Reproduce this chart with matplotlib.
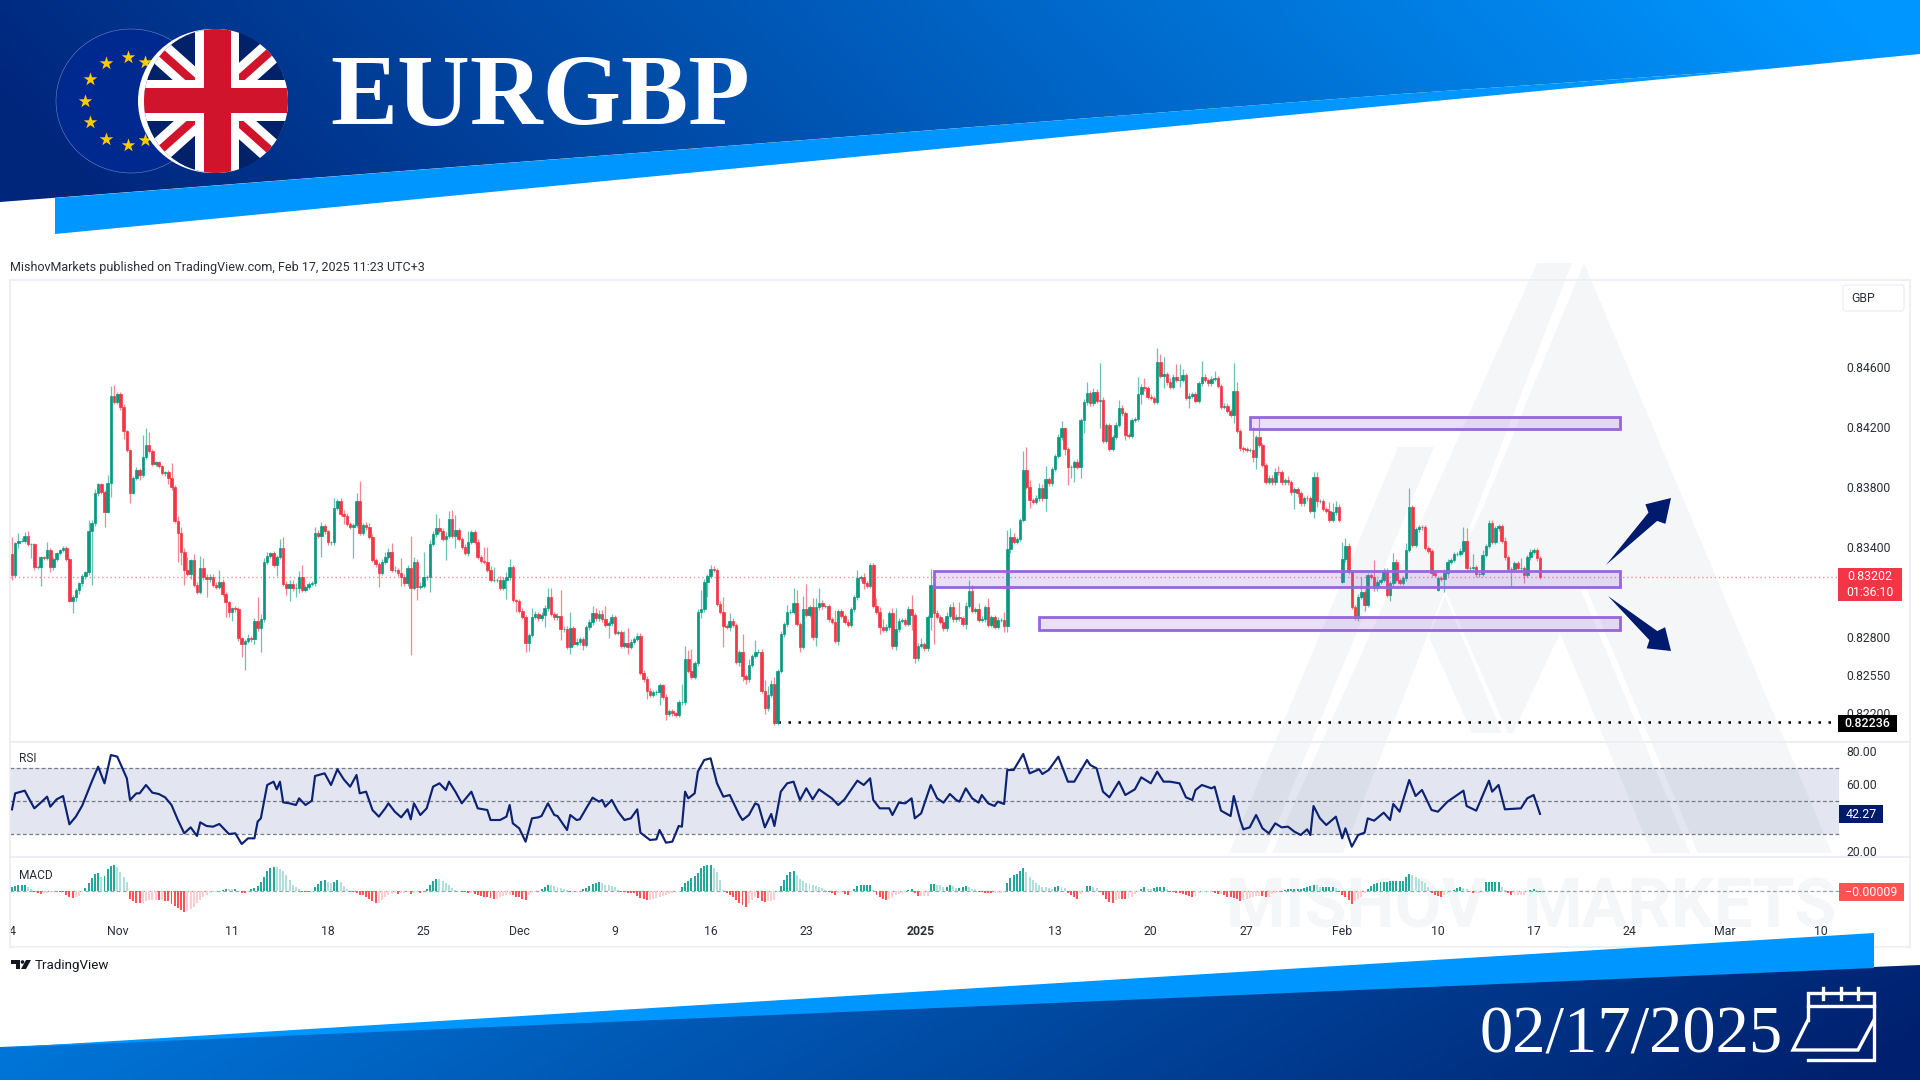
import numpy as np
import matplotlib
matplotlib.use("Agg")
import matplotlib.pyplot as plt
from matplotlib.patches import Polygon, Rectangle, Ellipse, FancyBboxPatch

W, H = 1920, 1080

# 4H closes in 1e-5 price points
first_open = 83351
closes = [
    83213, 83424, 83442, 83442, 83475, 83420, 83420, 83264, 83269, 83331,
    83329, 83380, 83269, 83320, 83358, 83380, 83395, 83320, 83042, 83069,
    83113, 83158, 83209, 83231, 83504, 83558, 83758, 83818, 83769, 83635,
    83829, 84406, 84364, 84420, 84335, 84173, 84046, 83762, 83862, 83913,
    83880, 84002, 84080, 84040, 83953, 83964, 83940, 83891, 83898, 83858,
    83802, 83575, 83491, 83366, 83246, 83220, 83313, 83146, 83102, 83258,
    83198, 83184, 83202, 83146, 83135, 83169, 83086, 83031, 82964, 82991,
    82984, 82791, 82751, 82775, 82795, 82784, 82909, 82858, 82918, 83302,
    83340, 83358, 83280, 83335, 83395, 83153, 83124, 83153, 83124, 83124,
    83198, 83113, 83135, 83153, 83158, 83491, 83475, 83540, 83504, 83431,
    83431, 83662, 83709, 83620, 83606, 83553, 83535, 83546, 83709, 83495,
    83546, 83531, 83469, 83313, 83284, 83229, 83302, 83335, 83369, 83246,
    83246, 83224,
    83198, 83158, 83258, 83129, 83302, 83135, 83140, 83198, 83198, 83420,
    83484, 83524, 83509, 83455, 83473, 83584, 83473, 83513, 83453, 83402,
    83362, 83435, 83498, 83435, 83335, 83309, 83302, 83246, 83180, 83180,
    83180, 83129, 83180, 83198, 83264, 83046, 83040, 82975, 82935, 82758,
    82813, 82935, 82953, 82924, 82946, 82991, 83064, 82953, 82931, 82942,
    82851, 82851, 82735, 82858, 82753, 82769, 82784, 82746, 82864, 82898,
    82962, 82924, 82953, 82918, 82880, 82891, 82931, 82829, 82835, 82742,
    82758, 82735, 82769, 82786, 82809, 82562, 82518, 82442, 82413, 82431,
    82435, 82480, 82402, 82287, 82309, 82291, 82280, 82364, 82364, 82653,
    82575, 82535, 82624, 82969, 82984, 83169, 83206, 83251, 83246, 83020,
    82969, 82873, 82869, 82909, 82880, 82635, 82698, 82540, 82518, 82613,
    82673, 82702, 82702, 82440, 82324, 82413, 82486, 82224, 82575, 82818,
    82884, 82969,
    82969, 83024, 82886, 82735, 82984, 82946, 82998, 82798, 82998, 83029,
    83006, 83006, 82918, 82902, 82775, 82975, 82940, 82902, 82880, 82984,
    83064, 83191, 83198, 83158, 83140, 83280, 83006, 82969, 82869, 82846,
    82864, 82958, 82742, 82851, 82909, 82913, 82886, 82984, 82946, 82658,
    82742, 82753, 82724, 82931, 83146, 82962, 82935, 82902, 82858, 82940,
    82998, 82918, 82931, 82924, 82886, 83006, 83106, 82973, 82984, 82913,
    82918, 82998, 82880, 82935, 82869, 82913, 82913, 82875, 83384,
    83469, 83435, 83453, 83580, 83913, 83802, 83713, 83702, 83724, 83795,
    83724, 83851, 83824, 83920, 84006, 84131, 84191, 84053, 83931, 83935,
    83964, 83935, 84246, 84364, 84424, 84357, 84431, 84373, 84380, 84106,
    84213, 84053, 84135, 84213, 84329, 84291, 84146, 84142, 84246, 84253,
    84418, 84469, 84457, 84402, 84395, 84369, 84631, 84542, 84551, 84497,
    84469, 84535, 84513, 84513, 84546, 84395, 84409, 84418, 84373, 84491,
    84535, 84513, 84491, 84520, 84524, 84475, 84335, 84342, 84306, 84280,
    84440, 84173, 84057, 84051, 84046, 84046, 84002, 84135, 84080, 83946,
    83835, 83862, 83831, 83902, 83897, 83831, 83846, 83831, 83764, 83786,
    83757, 83691, 83728, 83724, 83640, 83869, 83706, 83706, 83653, 83640,
    83580,
    83631, 83669, 83580, 83318, 83409, 83235, 83002, 82924, 83069, 83102,
    83013, 83213, 83202, 83124, 83169, 83180, 83242, 83080, 83158, 83302,
    83180, 83162, 83191, 83380, 83669, 83413, 83518, 83535, 83531, 83395,
    83373, 83224, 83213, 83191, 83186, 83224, 83302, 83313, 83353, 83353,
    83375, 83440, 83258, 83258, 83264, 83218, 83220, 83346, 83406, 83562,
    83435, 83524, 83540, 83440, 83331, 83251, 83251, 83291, 83258, 83258,
    83213, 83331, 83369, 83380, 83324, 83202,
]
# bars that opened away from the previous close
gap_opens = {417: 83169, 447: 83113}

wick_up = [
    118, 10, 49, 15, 25, 31, 10, 10, 12, 12, 10, 55, 15, 12, 12, 10, 10, 12, 10, 10,
    12, 10, 10, 10, 75, 20, 30, 10, 10, 10, 50, 67, 73, 12, 15, 20, 10, 10, 12, 20,
    15, 145, 111, 84, 15, 10, 12, 10, 12, 15, 100, 12, 30, 40, 25, 90, 10, 40, 20, 85,
    70, 20, 15, 15, 20, 78, 15, 15, 12, 12, 15, 15, 10, 10, 25, 12, 15, 160, 35, 25,
    25, 10, 15, 12, 60, 70, 20, 25, 30, 35, 40, 80, 15, 12, 15, 45, 25, 25, 15, 12,
    12, 65, 10, 15, 25, 20, 15, 15, 48, 130, 15, 20, 30, 15, 12, 15, 15, 30, 25, 60,
    25, 15, 100, 25, 20, 215, 30, 15, 30, 170, 15, 25, 25, 95, 70, 15, 30, 55, 62, 100,
    15, 15, 15, 70, 15, 15, 20, 15, 90, 100, 25, 90, 15, 25, 20, 35, 55, 15, 10, 15,
    20, 15, 12, 60, 20, 15, 20, 20, 60, 60, 15, 20, 170, 25, 20, 110, 15, 25, 15, 15,
    15, 20, 45, 30, 25, 25, 90, 15, 20, 15, 15, 15, 85, 100, 15, 15, 20, 15, 20, 20,
    15, 15, 15, 15, 10, 15, 10, 10, 10, 15, 125, 90, 60, 145, 15, 15, 130, 15, 15, 30,
    20, 15, 20, 95, 15, 50, 15, 15, 15, 125, 15, 40, 15, 80, 15, 15, 75, 60, 30, 50,
    15, 20, 15, 45, 15, 100, 90, 15, 90, 170, 15, 60, 60, 95, 15, 15, 15, 15, 80, 10,
    15, 15, 15, 15, 15, 55, 15, 30, 15, 15, 15, 55, 30, 50, 20, 15, 35, 140, 15, 15,
    15, 20, 95, 15, 15, 38, 15, 15, 105, 25, 15, 15, 15, 30, 22, 38, 25, 105, 15, 25,
    73, 40, 15, 40, 20, 15, 60, 15, 15, 20, 15, 55, 130, 55, 25, 15, 15, 126, 155, 44,
    15, 20, 30, 25, 90, 15, 15, 15, 20, 48, 12, 12, 15, 15, 20, 15, 20, 78, 15, 26,
    20, 250, 20, 15, 15, 15, 20, 51, 18, 15, 15, 15, 15, 113, 15, 55, 15, 15, 15, 98,
    53, 117, 15, 30, 20, 88, 110, 40, 15, 15, 15, 15, 15, 104, 20, 15, 20, 49, 15, 15,
    15, 15, 15, 184, 58, 15, 15, 15, 15, 155, 15, 133, 15, 15, 20, 20, 25, 40, 15, 15,
    25, 15, 15, 15, 15, 15, 20, 15, 33, 33, 15, 15, 15, 60, 60, 35, 15, 115, 49, 15,
    10, 10, 15, 100, 15, 15, 15, 110, 15, 15, 15, 15, 15, 55, 15, 15, 15, 44, 122, 11,
    15, 15, 15, 15, 15, 15, 15, 15, 15, 30, 15, 15, 15, 15, 20, 95, 84, 15, 88, 15,
    15, 33, 15, 15, 15, 15, 15, 15, 25, 15, 15, 15, 15, 66, 15, 15, 15, 11, 15, 15,
]
wick_dn = [
    33, 10, 30, 10, 15, 15, 95, 15, 10, 130, 15, 15, 33, 25, 15, 10, 10, 10, 10, 80,
    30, 25, 15, 20, 15, 355, 15, 15, 15, 100, 10, 93, 10, 10, 20, 50, 15, 66, 10, 15,
    30, 15, 15, 10, 12, 10, 10, 12, 15, 35, 20, 15, 190, 86, 100, 15, 30, 15, 15, 15,
    15, 120, 15, 15, 15, 15, 15, 100, 33, 60, 15, 15, 82, 173, 15, 15, 30, 15, 160, 15,
    15, 15, 15, 70, 15, 15, 44, 85, 15, 55, 30, 15, 15, 15, 15, 15, 15, 140, 15, 15,
    15, 15, 15, 15, 50, 15, 15, 210, 15, 15, 15, 15, 15, 15, 15, 93, 15, 15, 15, 15,
    15, 15, 55, 15, 15, 450, 15, 90, 15, 15, 15, 100, 15, 15, 15, 15, 142, 15, 15, 82,
    15, 15, 15, 20, 15, 15, 18, 15, 15, 15, 15, 15, 15, 15, 15, 128, 15, 15, 71, 15,
    15, 55, 50, 15, 15, 15, 15, 78, 15, 15, 15, 15, 70, 15, 15, 50, 15, 15, 20, 35,
    15, 15, 15, 15, 15, 15, 15, 88, 20, 15, 15, 15, 15, 50, 15, 15, 15, 15, 15, 57,
    15, 15, 15, 88, 15, 42, 15, 15, 15, 15, 15, 15, 15, 15, 15, 15, 40, 15, 100, 15,
    15, 15, 15, 140, 15, 30, 15, 15, 30, 30, 30, 15, 15, 15, 15, 15, 35, 15, 15, 10,
    10, 15, 15, 15, 15, 15, 15, 35, 15, 15, 15, 20, 60, 15, 20, 15, 15, 15, 15, 30,
    15, 15, 15, 15, 15, 15, 15, 40, 15, 15, 15, 15, 50, 15, 15, 15, 25, 30, 15, 15,
    15, 15, 100, 29, 15, 15, 15, 15, 85, 210, 15, 15, 15, 15, 15, 15, 15, 15, 15, 30,
    15, 15, 15, 15, 15, 15, 15, 15, 15, 15, 15, 40, 44, 25, 15, 15, 15, 15, 15, 55,
    15, 15, 15, 15, 85, 15, 15, 15, 15, 15, 40, 118, 73, 104, 15, 75, 89, 15, 15, 15,
    15, 178, 15, 15, 15, 15, 15, 15, 15, 33, 15, 15, 15, 15, 66, 15, 15, 15, 15, 15,
    15, 84, 15, 15, 15, 15, 44, 15, 15, 71, 15, 15, 15, 15, 15, 15, 15, 15, 15, 15,
    15, 15, 15, 55, 15, 15, 15, 15, 15, 35, 85, 15, 15, 15, 15, 15, 15, 15, 15, 15,
    15, 15, 110, 25, 15, 15, 15, 15, 44, 40, 15, 15, 15, 15, 15, 15, 15, 11, 15, 15,
    15, 10, 15, 15, 38, 15, 15, 15, 15, 15, 15, 15, 38, 15, 15, 15, 15, 15, 15, 15,
    15, 15, 15, 15, 15, 15, 15, 5, 15, 88, 15, 15, 15, 15, 15, 15, 15, 15, 15, 15,
    15, 15, 15, 15, 15, 15, 15, 15, 15, 15, 115, 15, 15, 15, 50, 15, 15, 15, 15, 15,
]

rsi_idx = [
    0, 1, 4, 5, 7, 9, 11, 12, 14, 16, 18, 20, 22, 25, 27, 29, 31, 33, 36, 37,
    39, 40, 42, 44, 46, 48, 50, 52, 54, 56, 58, 59, 61, 63, 65, 68, 70, 72, 74, 76,
    77, 78, 80, 82, 83, 84, 85, 87, 89, 90, 92, 94, 95, 98, 100, 102, 104, 106, 108, 109,
    111, 113, 115, 117, 118, 120, 122, 124, 125, 126, 128, 130, 132, 134, 136, 137, 139, 141, 144, 146,
    149, 150, 153, 155, 156, 157, 159, 161, 163, 165, 166, 168, 170, 171, 174, 175, 177, 178, 180, 182,
    184, 185, 186, 188, 190, 192, 194, 196, 197, 200, 202, 203, 205, 207, 209, 210, 211, 212, 214, 215,
    217, 219, 221, 223, 225, 228, 229, 231, 233, 234, 236, 238, 239, 241, 243, 245, 247, 249, 251, 253,
    254, 257, 259, 261, 265, 267, 269, 270, 272, 275, 276, 278, 280, 282, 283, 285, 288, 290, 292, 294,
    296, 297, 299, 301, 303, 304, 306, 308, 309, 311, 312, 314, 317, 319, 322, 323, 325, 328, 331, 333,
    337, 338, 340, 342, 344, 347, 349, 352, 354, 357, 359, 361, 363, 366, 368, 370, 371, 373, 376, 377,
    379, 382, 383, 385, 386, 388, 390, 392, 394, 396, 398, 400, 402, 404, 406, 407, 408, 410, 412, 415,
    417, 418, 420, 422, 424, 425, 427, 430, 432, 433, 435, 438, 440, 442, 445, 447, 450, 455, 456, 459,
    463, 464, 466, 468, 473, 475, 477, 479,
]
rsi_vals = [
    45.0, 54.6, 56.2, 52.6, 45.6, 49.0, 52.6, 46.6, 51.0, 53.0, 36.0, 40.6, 47.2, 61.6, 70.6, 60.6, 77.6, 76.6, 63.6, 50.6,
    54.6, 54.6, 59.6, 55.0, 54.2, 52.2, 47.6, 38.6, 30.6, 34.2, 29.0, 37.2, 35.0, 34.6, 36.2, 30.2, 30.6, 24.2, 27.6, 27.6,
    37.6, 39.6, 59.6, 61.6, 57.0, 61.6, 49.2, 48.6, 47.6, 51.6, 47.6, 50.2, 65.0, 66.6, 59.6, 69.0, 63.0, 58.6, 65.6, 54.6,
    55.6, 44.6, 40.6, 45.6, 48.6, 43.6, 40.2, 45.0, 39.0, 48.6, 41.6, 45.6, 58.6, 60.6, 56.6, 61.6, 55.6, 48.6, 55.6, 45.6,
    44.6, 38.6, 38.6, 40.6, 47.6, 36.6, 33.6, 25.6, 39.6, 40.2, 41.0, 48.6, 41.6, 41.0, 32.6, 41.6, 38.6, 39.0, 45.6, 52.0,
    49.6, 50.6, 46.6, 50.6, 43.6, 38.6, 39.6, 45.0, 31.0, 26.6, 27.0, 32.6, 25.0, 25.6, 35.0, 34.6, 55.6, 51.6, 54.6, 67.6,
    74.6, 75.6, 60.6, 52.6, 53.6, 41.6, 38.6, 41.6, 48.6, 47.6, 34.2, 42.2, 35.0, 55.6, 60.6, 61.6, 50.6, 57.6, 51.0, 57.0,
    55.6, 51.6, 47.6, 51.0, 62.2, 59.6, 63.6, 50.6, 45.6, 45.6, 41.6, 49.0, 48.6, 51.6, 39.6, 42.6, 59.6, 51.6, 49.0, 54.2,
    50.6, 49.6, 57.6, 51.6, 49.0, 53.6, 48.6, 47.0, 49.6, 48.2, 68.6, 68.6, 78.2, 66.6, 69.0, 66.2, 68.6, 76.6, 61.6, 61.6,
    74.6, 71.6, 69.6, 55.6, 52.2, 61.6, 53.6, 57.0, 64.2, 60.6, 67.6, 61.6, 61.6, 60.6, 52.2, 50.6, 56.6, 59.6, 57.6, 58.6,
    44.2, 41.0, 53.0, 38.6, 33.0, 34.2, 41.6, 33.6, 30.6, 36.6, 34.2, 34.6, 31.6, 29.6, 33.0, 29.6, 47.0, 39.6, 35.6, 40.6,
    27.6, 33.6, 22.6, 29.6, 31.0, 39.6, 38.2, 43.0, 38.6, 48.2, 43.6, 62.6, 53.0, 56.6, 44.6, 43.6, 49.6, 56.2, 47.0, 44.2,
    62.2, 55.6, 59.6, 45.0, 45.6, 51.6, 53.6, 42.27,
]

# MACD histogram, read in units of 2e-5
macd_hist = [
    12, 14, 16, 18, 18, 12, 4, -3, -8, -10, -6, -6, -3, -3, -2, -3, -5, -12, -20, -22,
    -20, -15, -3, 8, 22, 38, 50, 52, 40, 45, 65, 75, 78, 70, 55, 40, 25, -25, -32, -36,
    -38, -37, -30, -28, -28, -27, -28, -28, -30, -32, -40, -45, -52, -58, -65, -62, -55, -48, -38, -28,
    -20, -14, -8, -5, -3, -1, 2, 6, 5, 4, 5, -2, -6, -8, -5, 5, 8, 15, 25, 42,
    60, 68, 72, 70, 66, 60, 48, 32, 18, 10, 4, -3, -4, -5, -5, 10, 20, 30, 32, 26,
    22, 26, 32, 26, 14, 4, -3, -4, -6, -12, -14, -20, -25, -32, -38, -36, -28, -18, -14, -10,
    -8, -9, -8, -6, -5, -9, -6, -4, -6, -2, 6, 18, 28, 36, 35, 30, 24, 16, 8, 3,
    0, -3, -5, -8, -8, -10, -12, -15, -18, -20, -22, -26, -24, -20, -15, -12, -12, -14, -18, -20,
    -25, -28, -14, -8, -5, -1, 5, 12, 18, 16, 14, 10, 8, 5, 2, -3, -3, -3, -2, 4,
    8, 14, 20, 24, 25, 22, 18, 16, 14, 10, 3, -3, -4, -6, -7, -8, -16, -22, -26, -28,
    -28, -25, -22, -18, -15, -12, -9, -7, -5, -3, 10, 24, 30, 38, 44, 52, 68, 75, 78, 78,
    68, 55, 32, 3, -8, -14, -20, -28, -38, -44, -48, -38, -28, -20, -22, -30, -34, -32, -30, -28,
    -3, 14, 32, 48, 55, 58, 48, 35, 28, 22, 20, 18, 14, 12, 8, 3, -3, -8, -12, -6,
    -4, -10, -14, -4, 4, 14, 18, 18, 18, 18, 3, -14, -20, -26, -28, -24, -20, -14, -10, -6,
    -3, 3, 6, -6, -15, -15, -15, -15, 20, 20, 18, 16, 12, 12, 16, 14, 8, 8, 10, 14,
    10, 6, 4, -3, -5, -6, -7, -8, -8, -7, -6, -5, 22, 38, 48, 50, 58, 68, 55, 42,
    32, 22, 18, 12, 10, 8, 6, 10, 14, 12, 8, -8, -14, -20, -24, -10, -2, 14, 14, 12,
    8, -3, -14, -25, -33, -36, -28, -24, -25, -26, -22, -18, -10, -3, 6, 10, 6, 4, 8, 10,
    10, 10, 4, -3, -5, -7, -8, -10, -14, -16, -20, -16, -8, -4, -3, -3, -3, -6, -10, -10,
    -14, -18, -20, -22, -26, -30, -28, -24, -22, -18, -16, -15, -16, -20, -18, -10, -6, -4, -2, 2,
    5, 5, 5, 5, 6, 8, 10, 14, 18, 16, 12, 12, 12, 12, 12, 8, -4, -14, -20, -28,
    -40, -32, -24, -20, -6, 6, 15, 20, 24, 25, 26, 26, 28, 30, 30, 30, 30, 40, 50, 46,
    42, 36, 30, 22, 10, -6, -12, -16, -18, -14, -10, -3, 3, 8, 10, 8, 5, -2, -6, -6,
    -6, -3, 25, 25, 25, 25, 25, 10, 3, -8, -14, -14, -14, -14, -14, -3, 3, 5, 3, -4,
]

price_ticks = [84600, 84200, 83800, 83400, 82800, 82550, 82295]
price_labels = ["0.84600", "0.84200", "0.83800", "0.83400", "0.82800", "0.82550", "0.82200"]
rsi_ticks = [80, 60, 20]
time_idx = [0, 33, 69, 99, 129, 159, 189, 219, 249, 285, 327, 357, 387, 417, 447, 477, 507, 537, 567]
time_labels = ["4", "Nov", "11", "18", "25", "Dec", "9", "16", "23", "2025", "13", "20", "27",
               "Feb", "10", "17", "24", "Mar", "10"]

last_price = 83202
low_price = 82236
zones = [(388, 84187, 84269), (289, 83133, 83242), (322, 82847, 82933)]
zone_end = 504

if not (len(closes) == len(wick_up) == len(wick_dn) == len(macd_hist)):
    raise SystemExit(f"lengths {len(closes)} {len(wick_up)} {len(wick_dn)} {len(macd_hist)} {len(rsi_idx)} {len(rsi_vals)}")

GREEN = "#089981"
RED = "#f23645"
NAVY = "#001a6e"
TXT = "#2a2e39"
FONT = "Roboto"
X0, X1 = 12.0, 3.19  # first bar pixel, pixels per bar

plt.rcParams["font.family"] = [FONT, "DejaVu Sans"]
fig = plt.figure(figsize=(W / 100, H / 100), dpi=100, facecolor="white")


def full_axes(z):
    a = fig.add_axes([0, 0, 1, 1], zorder=z)
    a.set_xlim(0, W)
    a.set_ylim(H, 0)
    a.set_xticks([])
    a.set_yticks([])
    a.axis("off")
    a.patch.set_alpha(0)
    return a


def pane(y0, y1):
    a = fig.add_axes([10 / W, 1 - y1 / H, 1900 / W, (y1 - y0) / H], zorder=2)
    a.patch.set_alpha(0)
    a.set_xlim((10 - X0) / X1, (1910 - X0) / X1)
    for s in a.spines.values():
        s.set_color("#eceef3")
        s.set_linewidth(1.2)
    a.tick_params(length=0, labelsize=8.8, labelcolor=TXT)
    return a


# watermark, behind the panes
ax_wm = full_axes(1)
wm_shapes = [
    [(1398, 447), (1434, 447), (1265, 853), (1229, 853)],
    [(1537, 263), (1572, 263), (1343, 853), (1272, 853)],
    [(1584, 263), (1832, 853), (1698, 853), (1585, 585), (1580, 588), (1690, 853), (1652, 853),
     (1560, 633), (1513, 733), (1508, 733), (1445, 590), (1482, 510)],
    [(1429, 637), (1445, 596), (1502, 733), (1472, 733)],
]
for pts in wm_shapes:
    ax_wm.add_patch(Polygon(pts, closed=True, fc="#20305a", ec="none", alpha=0.045))
ax_wm.text(1226, 928, "MISHOV", fontsize=49, fontweight="bold", color="#20305a", alpha=0.045, va="baseline")
ax_wm.text(1523, 928, "MARKETS", fontsize=49, fontweight="bold", color="#20305a", alpha=0.045, va="baseline")

# price pane
ax = pane(280, 742)
to_p = 1e-5
ax.set_ylim(82100 * to_p, 85180 * to_p)
c = np.array(closes, dtype=float)
o = np.r_[first_open, c[:-1]]
for k, v in gap_opens.items():
    o[k] = v
hi = np.maximum(o, c) + np.array(wick_up)
lo = np.minimum(o, c) - np.array(wick_dn)
xs = np.arange(len(c))
cols = [GREEN if b >= a else RED for a, b in zip(o, c)]
ax.vlines(xs, lo * to_p, hi * to_p, colors=cols, linewidth=0.9, alpha=0.6, zorder=3)
ax.bar(xs, (c - o) * to_p, bottom=o * to_p, width=0.8, color=cols, edgecolor=cols, linewidth=0.5, zorder=4)
ax.hlines(last_price * to_p, (10 - X0) / X1, (1838 - X0) / X1, colors=RED, linewidth=1.0, linestyles=(0, (1, 2)), alpha=0.55, zorder=3)
ax.hlines(low_price * to_p, 240, (1838 - X0) / X1, colors="black", linewidth=1.8, linestyles=(0, (1, 3)), zorder=3)
for x_start, z_lo, z_hi in zones:
    ax.add_patch(Rectangle((x_start, z_lo * to_p), zone_end - x_start, (z_hi - z_lo) * to_p,
                           fc=(0.584, 0.4, 0.867, 0.2), ec="#9566dd", lw=2.0, zorder=5))
ax.yaxis.tick_right()
ax.set_yticks([t * to_p for t in price_ticks])
ax.set_yticklabels(price_labels)
ax.tick_params(axis="y", pad=-46)
ax.set_xticks([])

# RSI pane
ax_rsi = pane(742, 857)
ax_rsi.set_ylim(16.4, 85.4)
band_end = (1839 - X0) / X1
band_start = (10 - X0) / X1
ax_rsi.fill_between([band_start, band_end], 30, 70, color=(0.165, 0.247, 0.56, 0.13), lw=0)
for lvl in (70, 50, 30):
    ax_rsi.hlines(lvl, band_start, band_end, colors="#787b86", linewidth=0.9, linestyles=(0, (3, 2)))
ax_rsi.plot(rsi_idx, rsi_vals, color="#0c2272", lw=1.55, solid_joinstyle="round", zorder=4)
ax_rsi.yaxis.tick_right()
ax_rsi.set_yticks(rsi_ticks)
ax_rsi.set_yticklabels([f"{t:.2f}" for t in rsi_ticks])
ax_rsi.tick_params(axis="y", pad=-46)
ax_rsi.set_xticks([])
ax_rsi.text(0.0047, 0.83, "RSI", transform=ax_rsi.transAxes, fontsize=8.6, color=TXT)

# MACD pane, last rows hold the time scale
ax_m = pane(857, 947)
ax_m.set_ylim(-169.5, 100.5)
m = np.array(macd_hist)
m_prev = np.r_[m[0], m[:-1]]
m_cols = []
for v, p in zip(m, m_prev):
    if v >= 0:
        m_cols.append("#26a69a" if v >= p else "#b2dfdb")
    else:
        m_cols.append("#ffcdd2" if v >= p else "#ff5252")
ax_m.bar(np.arange(len(m)), m, width=0.62, color=m_cols, lw=0, zorder=3)
ax_m.hlines(0, band_start, band_end, colors="#787b86", linewidth=0.9, linestyles=(0, (3, 2)), alpha=0.7)
ax_m.text(0.0047, 0.76, "MACD", transform=ax_m.transAxes, fontsize=8.6, color=TXT)
ax_m.set_yticks([])
ax_m.set_xticks(time_idx)
ax_m.set_xticklabels(time_labels)
for lab in ax_m.get_xticklabels():
    if lab.get_text() == "2025":
        lab.set_fontweight("bold")
ax_m.tick_params(axis="x", pad=-16)

# banners, flags and labels on top
fg = full_axes(6)


def gradient(poly, left, right, tilt=0.0):
    cl = np.array(matplotlib.colors.to_rgb(left))
    cr = np.array(matplotlib.colors.to_rgb(right))
    yy, xx = np.mgrid[0:1:60j, 0:1:240j]
    t = np.clip((xx + tilt * (yy - 0.5)), 0, 1)[..., None]
    img = cl + (cr - cl) * t
    xv = [p[0] for p in poly]
    yv = [p[1] for p in poly]
    im = fg.imshow(img, extent=[min(xv), max(xv), max(yv), min(yv)], aspect="auto", zorder=1,
                   interpolation="bilinear")
    im.set_clip_path(Polygon(poly, closed=True, transform=fg.transData))


top_poly = [(0, 0), (1920, 0), (1920, 54), (1767, 69), (1400, 94), (0, 202)]
gradient(top_poly, "#00267c", "#0096ff", tilt=-0.1)
fg.add_patch(Polygon([(55, 198), (1400, 94), (1767, 69), (55, 234)], closed=True, fc="#0096ff", ec="none", zorder=2))
fg.add_patch(Polygon([(0, 1048), (1874, 933), (1874, 968), (0, 1048)], closed=True, fc="#0096ff", ec="none", zorder=2))
bottom_poly = [(0, 1047), (1920, 965), (1920, 1080), (0, 1080)]
gradient(bottom_poly, "#0078dc", "#00216f", tilt=0.1)
fg.set_xlim(0, W)
fg.set_ylim(H, 0)

fg.text(330, 125, "EURGBP", fontsize=72.5, fontfamily="Liberation Serif", fontweight="bold", color="white", va="baseline", zorder=5)
fg.text(1480, 1052, "02/17/2025", fontsize=48, fontfamily="Liberation Serif", color="white", va="baseline", zorder=5)

# EU disc
fg.add_patch(Ellipse((131, 101), 150, 144, fc="#00298f", ec="#6f86c4", lw=0.4, zorder=3))
star_x = [127.6, 105.6, 90, 85, 90, 106, 128, 145, 145]
star_y = [57, 63, 79, 101, 122, 139, 145, 62, 140]
fg.scatter(star_x, star_y, marker="*", s=105, color="#ffcc00", lw=0, zorder=3.5)

# UK disc
fg.add_patch(Ellipse((213, 101), 150, 144, fc="white", ec="none", zorder=4))
clip = Ellipse((216, 101), 144, 144, transform=fg.transData)
art = [fg.add_patch(Rectangle((130, 25), 170, 152, fc="#012169", ec="none", zorder=4.1))]
for (x_a, y_a, x_b, y_b) in [(130, 25, 300, 177), (130, 177, 300, 25)]:
    art += fg.plot([x_a, x_b], [y_a, y_b], color="white", lw=18, solid_capstyle="butt", zorder=4.2)
    art += fg.plot([x_a, x_b], [y_a, y_b], color="#cf142b", lw=6, solid_capstyle="butt", zorder=4.3)
art.append(fg.add_patch(Rectangle((195, 25), 44, 152, fc="white", ec="none", zorder=4.4)))
art.append(fg.add_patch(Rectangle((130, 80), 170, 41, fc="white", ec="none", zorder=4.4)))
art.append(fg.add_patch(Rectangle((204, 25), 27, 152, fc="#cf142b", ec="none", zorder=4.5)))
art.append(fg.add_patch(Rectangle((130, 88), 170, 25, fc="#cf142b", ec="none", zorder=4.5)))
fg.add_artist(clip)
clip.set_visible(False)
for a in art:
    a.set_clip_path(clip)

fg.text(10, 267, "MishovMarkets published on TradingView.com, Feb 17, 2025 11:23 UTC+3", fontsize=9.0, color=TXT, va="center", zorder=5)

# TradingView mark
fg.add_patch(Polygon([(11, 960), (20, 960), (20, 969), (16, 969), (16, 964), (11, 964)], closed=True, fc="#131722", ec="none", zorder=5))
fg.add_patch(Ellipse((22.5, 962), 3.6, 3.6, fc="#131722", ec="none", zorder=5))
fg.add_patch(Polygon([(26, 960), (31, 960), (26, 969), (21, 969)], closed=True, fc="#131722", ec="none", zorder=5))
fg.text(35, 965, "TradingView", fontsize=9.6, color="#131722", va="center", zorder=5)

# scale box and value tags
fg.add_patch(FancyBboxPatch((1844, 286), 59, 24, boxstyle="round,pad=1,rounding_size=3", fc="white", ec="#eef0f4", lw=1, zorder=5))
fg.text(1851, 298, "GBP", fontsize=8.8, color=TXT, va="center", zorder=5.1)


def tag(x0, x1, y0, y1, color, lines, weight="normal"):
    fg.add_patch(Rectangle((x0, y0), x1 - x0, y1 - y0, fc=color, ec="none", zorder=5))
    step = (y1 - y0) / len(lines)
    for n, s in enumerate(lines):
        fg.text((x0 + x1) / 2, y0 + step * (n + 0.5), s, fontsize=8.9, color="white", ha="center", va="center",
                fontweight=weight, zorder=5.1)


tag(1838, 1902, 568, 601, RED, [f"{last_price / 1e5:.5f}", "01:36:10"])
tag(1838, 1897, 715, 732, "black", [f"{low_price / 1e5:.5f}"], weight="medium")
tag(1839, 1883, 805, 823, NAVY, [f"{rsi_vals[-1]:.2f}"])
tag(1839, 1904, 883, 901, "#ff5252", ["\u22120.00009"])


def arrow(tail, tip):
    tail = np.array(tail, float)
    tip = np.array(tip, float)
    d = tip - tail
    L = np.hypot(*d)
    u = d / L
    v = np.array([-u[1], u[0]])
    pts = [tail, tail + 0.72 * L * u + 6 * v, tail + 0.76 * L * u + 14 * v, tip,
           tail + 0.76 * L * u - 14 * v, tail + 0.72 * L * u - 6 * v]
    fg.add_patch(Polygon(pts, closed=True, fc=NAVY, ec="none", zorder=5))


arrow((1606, 565), (1671, 498))
arrow((1608, 596), (1671, 651))

# calendar icon
cal = dict(color="white", lw=2.4, solid_joinstyle="miter", zorder=5)
fg.plot([1808, 1808, 1874, 1874, 1808], [1020, 993, 993, 1060, 1060], **cal)
fg.plot([1808, 1874], [1006, 1006], **cal)
fg.plot([1808, 1793, 1858, 1874], [1020, 1050, 1050, 1020], **cal)
for rx in (1823, 1841, 1858):
    fg.plot([rx, rx], [988, 999], **cal)

fig.savefig("out.png", dpi=100)
